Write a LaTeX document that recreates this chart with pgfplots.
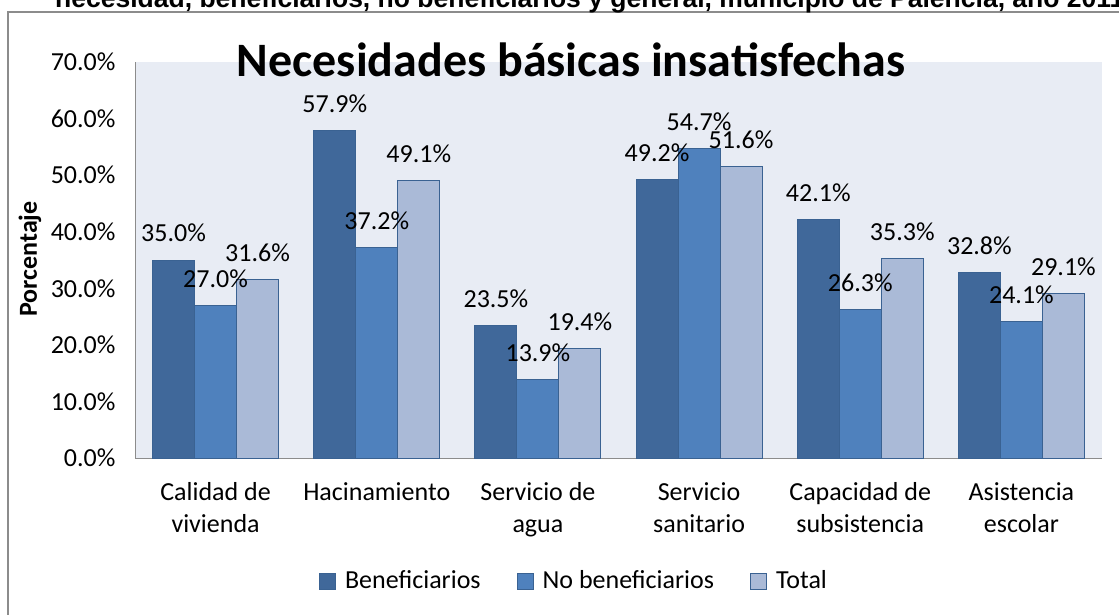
\documentclass[border=0pt]{standalone}
\usepackage{fontspec}
\setmainfont{Carlito}
\newfontfamily\arialfont{Liberation Sans}
\usepackage{pgfplots}
\pgfplotsset{compat=1.18}

\definecolor{benef}{HTML}{40689A}
\definecolor{nobenef}{HTML}{4F81BD}
\definecolor{total}{HTML}{AABAD7}
\definecolor{edge}{HTML}{3A6292}
\definecolor{plotbg}{HTML}{E8ECF4}
\definecolor{frame}{HTML}{8C8C8C}

\begin{document}
\begin{tikzpicture}[x=1pt,y=1pt]
\useasboundingbox (0,0) rectangle (1119,614);
% outer chart frame (cut off at right and bottom)
\draw[frame, line width=1.5pt] (8,-20) -- (8,602) -- (1140,602);
% cut-off heading above the chart
\node[anchor=base west, inner sep=0pt, font=\arialfont\bfseries\fontsize{26.5}{26.5}\selectfont]
  at (55,606) {necesidad, beneficiarios, no beneficiarios y general, municipio de Palencia, año 2011};

\begin{axis}[
    at={(135pt,156pt)}, anchor=south west,
    scale only axis,
    width=967pt, height=396pt,
    ybar=0pt,
    bar width=42pt,
    xmin=-0.5, xmax=5.5,
    ymin=0, ymax=70,
    ytick={0,10,...,70},
    xtick=data,
    xticklabels={Calidad de\\vivienda, Hacinamiento, Servicio de\\agua, Servicio\\sanitario, Capacidad de\\subsistencia, Asistencia\\escolar},
    major tick length=0pt,
    axis x line*=bottom,
    axis y line*=left,
    axis line style={draw=gray!90, line width=1pt, -},
    axis background/.style={fill=plotbg},
    /pgf/number format/assume math mode=true,
    yticklabel={\pgfmathprintnumber[fixed,fixed zerofill,precision=1]{\tick}\%},
    yticklabel style={font=\fontsize{26}{26}\selectfont, xshift=-16pt},
    xticklabel style={font=\fontsize{26}{32}\selectfont, align=center, yshift=-21pt},
    nodes near coords={\pgfmathprintnumber[fixed,fixed zerofill,precision=1]{\pgfplotspointmeta}\%},
    every node near coord/.append style={font=\fontsize{26}{26}\selectfont, black, yshift=14pt},
    legend style={at={(0.454,-0.308)}, anchor=center, draw=none, fill=none,
        font=\fontsize{26}{26}\selectfont, legend columns=3,
        /tikz/every odd column/.append style={column sep=7pt},
        /tikz/every even column/.append style={column sep=34pt}},
    legend image code/.code={\draw[#1] (0pt,-10pt) rectangle (16pt,6pt);},
]
\addplot[fill=benef, draw=edge, line width=1pt] coordinates {(0,35.0) (1,57.9) (2,23.5) (3,49.2) (4,42.1) (5,32.8)};
\addplot[fill=nobenef, draw=edge, line width=1pt] coordinates {(0,27.0) (1,37.2) (2,13.9) (3,54.7) (4,26.3) (5,24.1)};
\addplot[fill=total, draw=edge, line width=1pt] coordinates {(0,31.6) (1,49.1) (2,19.4) (3,51.6) (4,35.3) (5,29.1)};
\legend{Beneficiarios, No beneficiarios, Total}
\end{axis}

\node[rotate=90, inner sep=0pt, font=\bfseries\fontsize{26}{26}\selectfont] at (30,355) {Porcentaje};
\node[anchor=base, inner sep=0pt, font=\bfseries\fontsize{48}{48}\selectfont] at (571,537) {Necesidades básicas insatisfechas};
\end{tikzpicture}
\end{document}
